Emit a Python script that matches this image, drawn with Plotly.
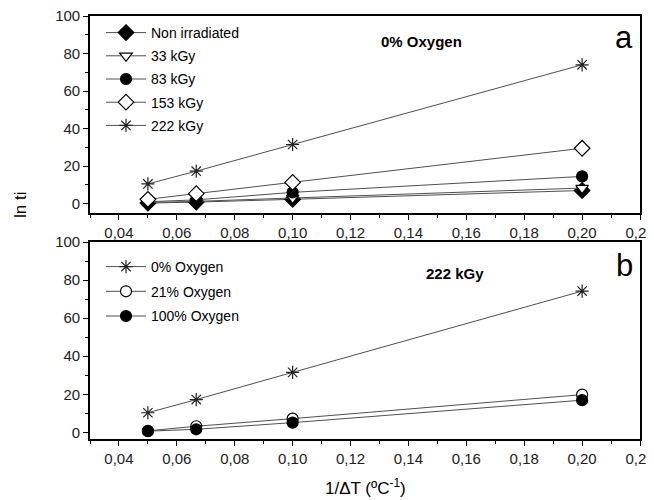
import plotly.graph_objects as go

# ---- data ----
inv_dT = [0.05, 0.0667, 0.1, 0.2]

series_a_names = ["Non irradiated", "33 kGy", "83 kGy", "153 kGy", "222 kGy"]
non_irradiated = [0.3, 0.8, 2.3, 7.0]
kgy_33 = [0.6, 1.2, 3.0, 8.3]
kgy_83 = [1.0, 2.0, 6.0, 14.5]
kgy_153 = [2.3, 5.3, 11.3, 29.5]
kgy_222 = [10.5, 17.3, 31.5, 74.0]

series_b_names = ["0% Oxygen", "21% Oxygen", "100% Oxygen"]
oxy_0 = [10.3, 17.2, 31.5, 74.2]
oxy_21 = [0.8, 3.2, 7.2, 19.8]
oxy_100 = [0.6, 1.6, 5.1, 16.9]

x_tickvals = [0.04, 0.06, 0.08, 0.10, 0.12, 0.14, 0.16, 0.18, 0.20, 0.22]
x_ticktext = ["0,04", "0,06", "0,08", "0,10", "0,12", "0,14", "0,16", "0,18", "0,20", "0,22"]
y_tickvals = [0, 20, 40, 60, 80, 100]

FONT = "Liberation Sans, Arial, sans-serif"
LINE_COL = "#505050"
MK_COL = "#000000"

fig = go.Figure()

def add(x, y, name, symbol, fill, xa, ya, legend, group, size=10):
    fig.add_trace(go.Scatter(
        x=x, y=y, name=name, mode="lines+markers",
        line=dict(color=LINE_COL, width=1),
        marker=dict(symbol=symbol, size=size, color=fill,
                    line=dict(color=MK_COL, width=1.2)),
        xaxis=xa, yaxis=ya, legend=legend, legendgroup=group,
    ))

add(inv_dT, non_irradiated, series_a_names[0], "diamond", "black", "x", "y", "legend", "a1", 12)
add(inv_dT, kgy_33, series_a_names[1], "triangle-down", "white", "x", "y", "legend", "a2", 11)
add(inv_dT, kgy_83, series_a_names[2], "circle", "black", "x", "y", "legend", "a3", 11)
add(inv_dT, kgy_153, series_a_names[3], "diamond", "white", "x", "y", "legend", "a4", 12)
add(inv_dT, kgy_222, series_a_names[4], "asterisk-open", "#222222", "x", "y", "legend", "a5", 11)

add(inv_dT, oxy_0, series_b_names[0], "asterisk-open", "#222222", "x2", "y2", "legend2", "b1", 11)
add(inv_dT, oxy_21, series_b_names[1], "circle", "white", "x2", "y2", "legend2", "b2", 11)
add(inv_dT, oxy_100, series_b_names[2], "circle", "black", "x2", "y2", "legend2", "b3", 11)

# page body has an 8px margin: figure is drawn at (8, 8) in the window
OFF = 8
W, Hfig = 654 - OFF, 500 - OFF
left_px, right_px = 90, 640       # window coordinates of the plot frame
top_px, bot_px = 16, 439
PW = right_px - left_px
H = bot_px - top_px
def py(px):
    return (bot_px - px) / H
def px_(x):
    return (x - left_px) / PW

axis_common = dict(
    showline=True, linewidth=1.6, linecolor="black", mirror=True,
    ticks="outside", ticklen=5, tickwidth=1.3, tickcolor="black",
    showgrid=False, zeroline=False, automargin=False, ticklabeloverflow="allow",
    tickfont=dict(family=FONT, size=15, color="#222"),
)

xaxis_common = dict(axis_common, range=[0.03, 0.22], tickvals=x_tickvals, ticktext=x_ticktext,
                    minor=dict(dtick=0.01, tick0=0.03, ticks="outside", ticklen=3, tickcolor="black", tickwidth=1))
yaxis_common = dict(axis_common, range=[-5, 100], tickvals=y_tickvals,
                    minor=dict(dtick=10, tick0=0, ticks="outside", ticklen=3, tickcolor="black", tickwidth=1))

fig.update_layout(
    width=W, height=Hfig,
    margin=dict(l=left_px - OFF, r=W - (right_px - OFF), t=top_px - OFF, b=Hfig - (bot_px - OFF)),
    paper_bgcolor="white", plot_bgcolor="white",
    font=dict(family=FONT, size=13, color="black"),
    showlegend=True,
    xaxis=dict(xaxis_common, domain=[0, 1], anchor="y"),
    yaxis=dict(yaxis_common, domain=[py(213), 1], anchor="x"),
    xaxis2=dict(xaxis_common, domain=[0, 1], anchor="y2"),
    yaxis2=dict(yaxis_common, range=[-3.5, 100], domain=[0, py(242)], anchor="x2"),
    legend=dict(x=px_(101), y=py(17), xanchor="left", yanchor="top",
                bgcolor="rgba(0,0,0,0)", font=dict(family=FONT, size=14, color="black"),
                tracegroupgap=2, itemwidth=40),
    legend2=dict(x=px_(101), y=py(251), xanchor="left", yanchor="top",
                 bgcolor="rgba(0,0,0,0)", font=dict(family=FONT, size=14, color="black"),
                 tracegroupgap=3.5, itemwidth=40),
    annotations=[
        dict(text="a", x=0.99, y=py(38), xref="paper", yref="paper", xanchor="right", yanchor="middle",
             showarrow=False, font=dict(family=FONT, size=31, color="black")),
        dict(text="b", x=0.99, y=py(265), xref="paper", yref="paper", xanchor="right", yanchor="middle",
             showarrow=False, font=dict(family=FONT, size=31, color="black")),
        dict(text="<b>0% Oxygen</b>", x=px_(421), y=py(42), xref="paper", yref="paper",
             xanchor="center", yanchor="middle", showarrow=False, font=dict(family=FONT, size=15, color="black")),
        dict(text="<b>222 kGy</b>", x=px_(455), y=py(273), xref="paper", yref="paper",
             xanchor="center", yanchor="middle", showarrow=False, font=dict(family=FONT, size=15, color="black")),
        dict(text="ln ti", x=px_(20), y=py(205), xref="paper", yref="paper",
             xanchor="center", yanchor="middle", textangle=-90, showarrow=False,
             font=dict(family=FONT, size=17, color="black")),
        dict(text="1/ΔT (ºC<sup>-1</sup>)", x=0.5, y=py(487), xref="paper", yref="paper",
             xanchor="center", yanchor="middle", showarrow=False,
             font=dict(family=FONT, size=17, color="black")),
    ],
)

fig.write_html("out.html")
